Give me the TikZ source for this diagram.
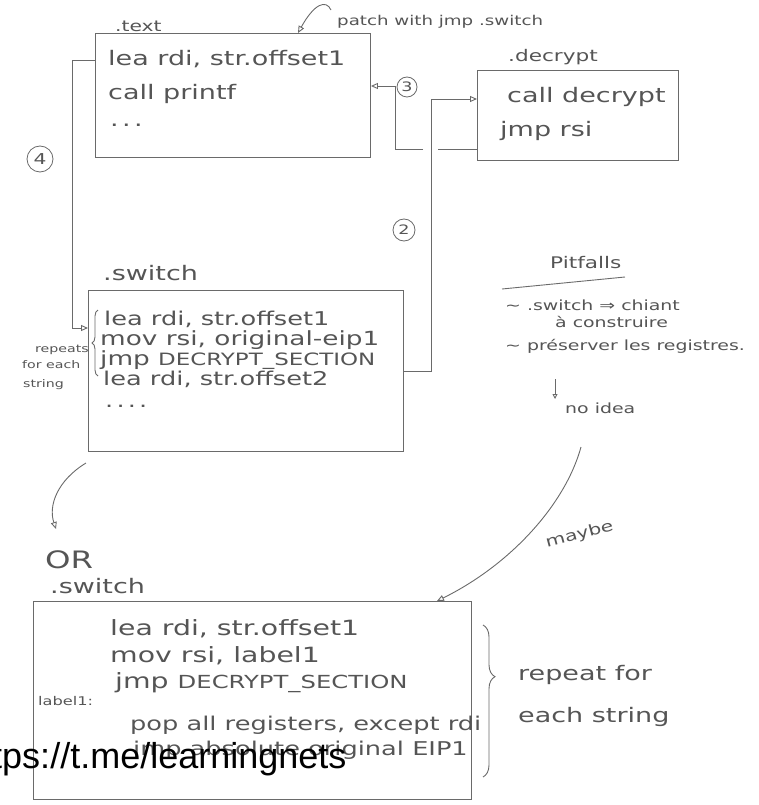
\documentclass[tikz,border=0pt]{standalone}
\usepackage{fontspec}
\setmainfont{DejaVu Sans}[FakeStretch=1.35]
\newfontfamily\wmfont{Liberation Sans}
\usetikzlibrary{arrows.meta,decorations.pathreplacing,calc}
\definecolor{pencil}{HTML}{6A6A6A}
\definecolor{ink}{HTML}{555555}
\newcommand\fsz[1]{\fontsize{#1}{#1}\selectfont}
\tikzset{
  conn/.style={draw=pencil, line width=0.9pt},
  arr/.style={conn, -{Triangle[open,length=7pt,width=6pt]}},
  arrs/.style={conn, -{Triangle[open,length=5pt,width=5pt]}},
  box/.style={draw=pencil, line width=0.9pt, rectangle, inner sep=0pt, anchor=north west},
  hw/.style={text=ink, inner sep=0pt, anchor=base west},
  circ/.style={draw=pencil, circle, inner sep=0pt, text=ink, line width=0.8pt},
  brace/.style={conn, decorate, decoration={brace, amplitude=#1}},
}
\begin{document}
\begin{tikzpicture}[x=1pt,y=-1pt]
\useasboundingbox (0,0) rectangle (759,805);
\clip (0,0) rectangle (759,805);

% boxes
\node[box, minimum width=275pt, minimum height=124pt] (textbox) at (95,33) {};
\node[box, minimum width=201pt, minimum height=90pt] (decbox) at (477,70) {};
\node[box, minimum width=315pt, minimum height=161pt] (swbox) at (88,290) {};
\node[box, minimum width=438pt, minimum height=198pt] (orbox) at (33,601) {};

% box labels
\node[hw, font=\fsz{15}] (textlbl) at (115,32) {.text};
\node[hw, font=\fsz{13.5}] (patch) at (337,26) {patch with jmp .switch};
\node[hw, font=\fsz{16}] (declbl) at (508,62) {.decrypt};
\node[hw, font=\fsz{20}] (swlbl) at (103,280) {.switch};
\node[hw, font=\fsz{24}] (orlbl) at (45,568) {OR};
\node[hw, font=\fsz{20}] (orsw) at (50,593) {.switch};

% text box content
\node[hw, font=\fsz{20}] (tb1) at (108,66) {lea rdi, str.offset1};
\node[hw, font=\fsz{20}] (tb2) at (108,100) {call printf};
\node[hw, font=\fsz{20}] (tb3) at (110,127) {.\,.\,.};

% decrypt content
\node[hw, font=\fsz{20}] (db1) at (507,103) {call decrypt};
\node[hw, font=\fsz{20}] (db2) at (500,137) {jmp rsi};

% switch content
\node[hw, font=\fsz{19}] (sw1) at (104,325) {lea rdi, str.offset1};
\node[hw, font=\fsz{19.5}] (sw2) at (100,345) {mov rsi, original-eip1};
\node[hw, font=\fsz{19.5}] (sw3) at (100,365) {jmp {\fsz{17}DECRYPT\_SECTION}};
\node[hw, font=\fsz{19}] (sw4) at (103,385) {lea rdi, str.offset2};
\node[hw, font=\fsz{19}] (sw5) at (105,407) {.\,.\,.\,.};
\draw[brace=6pt] (98,376) -- (98,310);
\node[hw, font=\fsz{10.5}] (rep1) at (35,352) {repeats};
\node[hw, font=\fsz{10.5}] (rep2) at (22,368) {for each};
\node[hw, font=\fsz{10.5}] (rep3) at (23,387) {string};

% bottom switch content
\node[hw, font=\fsz{21}] (ob1) at (110,635) {lea rdi, str.offset1};
\node[hw, font=\fsz{21}] (ob2) at (110,662) {mov rsi, label1};
\node[hw, font=\fsz{21}] (ob3) at (115,688) {jmp {\fsz{18}DECRYPT\_SECTION}};
\node[hw, font=\fsz{12}] (ob4) at (38,705) {label1:};
\node[hw, font=\fsz{19}] (ob5) at (130,730) {pop all registers, except rdi};
\node[hw, font=\fsz{19}] (ob6) at (133,755) {jmp absolute original EIP1};
\draw[brace=12pt, decoration={aspect=0.34}] (483,625) -- (483,777);
\node[hw, font=\fsz{20}] (rp1) at (518,680) {repeat for};
\node[hw, font=\fsz{20}] (rp2) at (518,722) {each string};

% pitfalls
\node[hw, font=\fsz{16}] (pit) at (550,268) {Pitfalls};
\draw[conn] (502,289) -- (625,277);
\node[hw, font=\fsz{14}] (pf1) at (505,310) {\textasciitilde\ .switch ⇒ chiant};
\node[hw, font=\fsz{14}] (pf2) at (555,327) {à construire};
\node[hw, font=\fsz{14}] (pf3) at (505,350) {\textasciitilde\ préserver les registres.};
\node[hw, font=\fsz{14}] (noidea) at (565,413) {no idea};
\coordinate (a0) at (555,379);
\draw[arrs] (a0) -- (555,399);

% circled numbers
\node[circ, minimum size=26pt, font=\fsz{15}] (n4) at (40,159) {4};
\node[circ, minimum size=20pt, font=\fsz{13}] (n3) at (407,87) {3};
\node[circ, minimum size=22pt, font=\fsz{13}] (n2) at (404,230) {2};

% connector 4
\coordinate (k4a) at (72,60);
\coordinate (k4b) at (72,328);
\draw[arr] (textbox.west |- k4a) -- (k4a) -- (k4b) -- (swbox.west |- k4b);

% connector 2
\coordinate (k2a) at (431,371);
\coordinate (k2b) at (431,99);
\draw[arr] (swbox.east |- k2a) -- (k2a) -- (k2b) -- (decbox.west |- k2b);

% connector 3 (broken where it crosses connector 2)
\coordinate (k3a) at (395,149);
\coordinate (k3b) at (395,86);
\coordinate (g3r) at (438,149);
\coordinate (g3l) at (423,149);
\draw[conn] (decbox.west |- k3a) -- (g3r);
\draw[arr] (g3l) -- (k3a) -- (k3b) -- (textbox.east |- k3b);

% patch arrow
\coordinate (p0) at (331,10);
\coordinate (p1) at (298,0);
\draw[arr] (p0) .. controls (326,-1) and (314,4) .. (textbox.north -| p1);

% arrow to OR
\coordinate (c5) at (86,463);
\coordinate (c5e) at (56,529);
\draw[arr] (c5) .. controls (58,480) and (48,505) .. (c5e);

% maybe arrow
\coordinate (m0) at (581,447);
\coordinate (mt) at (437,0);
\draw[arr] (m0) .. controls (565,505) and (510,565) .. (orbox.north -| mt);
\node[hw, font=\fsz{15}, rotate=15] (maybe) at (547,548) {maybe};

% watermark
\node[anchor=base west, inner sep=0pt, font=\wmfont\fsz{36}, text=black] (wm) at (-38,768) {https://t.me/learningnets};
\end{tikzpicture}
\end{document}
